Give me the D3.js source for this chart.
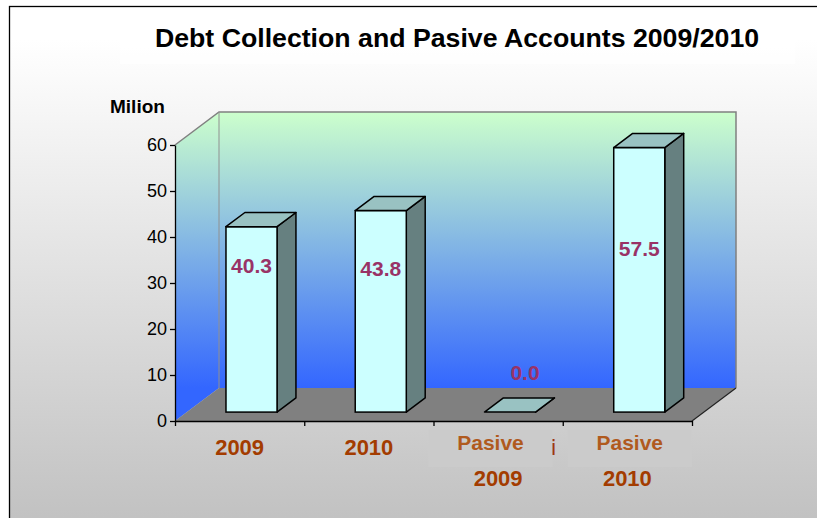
<!DOCTYPE html>
<html>
<head>
    <title>Debt Collection and Pasive Accounts 2009/2010</title>
    <script src="https://d3js.org/d3.v7.min.js"></script>
    <style>
        body { margin: 0; background: #fff; }
        svg { display: block; font-family: "Liberation Sans", Arial, sans-serif; }
        .axis path, .axis line { stroke: #000; stroke-width: 1.3; fill: none; }
        .axis text { font-size: 18px; fill: #000; }
    </style>
</head>
<body>
    <svg width="817" height="518"></svg>
    <script>
        // data
        const categories = ["2009", "2010", "Pasive 2009", "Pasive 2010"];
        const values = [40.3, 43.8, 0.0, 57.5];
        const yTicks = [0, 10, 20, 30, 40, 50, 60];
        const catLines = [["2009"], ["2010"], ["Pasive", "2009"], ["Pasive", "2010"]];

        // layout
        const plotLeft = 175, plotRight = 692, plotBottom = 421, plotTop = 145;
        const DX = 44, DY = -33;       // depth of the 3d box
        const f0 = 0.27, f1 = 0.70;    // bar position in depth
        const labelShift = [[0, 39], [0, 58], [15, -40], [0, 101]];
        const boxShift = [0, 0, -5, 5];

        const svg = d3.select("svg");
        const defs = svg.append("defs");

        const bg = defs.append("linearGradient").attr("id", "bg")
            .attr("gradientUnits", "userSpaceOnUse")
            .attr("x1", 0).attr("y1", 40).attr("x2", 0).attr("y2", 540);
        bg.append("stop").attr("offset", "0%").attr("stop-color", "#ffffff");
        bg.append("stop").attr("offset", "100%").attr("stop-color", "#bfbfbf");

        const wall = defs.append("linearGradient").attr("id", "wall")
            .attr("gradientUnits", "userSpaceOnUse")
            .attr("x1", 0).attr("y1", plotTop + DY).attr("x2", 0).attr("y2", plotBottom + DY);
        wall.append("stop").attr("offset", "0%").attr("stop-color", "#ccffcc");
        wall.append("stop").attr("offset", "100%").attr("stop-color", "#3366ff");

        // chart area
        svg.append("rect")
            .attr("x", 9.5).attr("y", 6.5).attr("width", 900).attr("height", 600)
            .attr("fill", "url(#bg)").attr("stroke", "#000").attr("stroke-width", 1.3);
        svg.append("rect")
            .attr("x", 120).attr("y", 8).attr("width", 675).attr("height", 56)
            .attr("fill", "#fff").attr("opacity", 0.5);

        // scales
        const x = d3.scaleBand().domain(categories).range([plotLeft, plotRight]);
        const xEdge = d3.scaleLinear().domain([0, categories.length]).range([plotLeft, plotRight]);
        const y = d3.scaleLinear().domain([0, 60]).range([plotBottom, plotTop]);

        const pts = p => p.map(d => d.join(",")).join(" ");

        // walls and floor
        const y0 = y(0), y60 = y(60);
        svg.append("polygon")
            .attr("points", pts([[plotLeft, y60], [plotLeft + DX, y60 + DY], [plotLeft + DX, y0 + DY], [plotLeft, y0]]))
            .attr("fill", "url(#wall)");
        svg.append("rect")
            .attr("x", plotLeft + DX).attr("y", y60 + DY)
            .attr("width", plotRight - plotLeft).attr("height", y0 - y60)
            .attr("fill", "url(#wall)");
        svg.append("polygon")
            .attr("points", pts([[plotLeft, y0], [plotLeft + DX, y0 + DY], [plotRight + DX, y0 + DY], [plotRight, y0]]))
            .attr("fill", "#808080");
        svg.append("polyline")
            .attr("points", pts([[plotLeft, y60], [plotLeft + DX, y60 + DY], [plotRight + DX, y60 + DY], [plotRight + DX, y0 + DY]]))
            .attr("fill", "none").attr("stroke", "#808080").attr("stroke-width", 1.5);
        svg.append("line")
            .attr("x1", plotLeft + DX).attr("y1", y60 + DY).attr("x2", plotLeft + DX).attr("y2", y0 + DY)
            .attr("stroke", "#909090").attr("stroke-width", 1);
        svg.append("line")
            .attr("x1", plotRight).attr("y1", y0).attr("x2", plotRight + DX).attr("y2", y0 + DY)
            .attr("stroke", "#222").attr("stroke-width", 1.2);

        // axes
        svg.append("g").attr("class", "axis")
            .attr("transform", `translate(${plotLeft},0)`)
            .call(d3.axisLeft(y).tickValues(yTicks).tickSize(5).tickSizeOuter(0));
        svg.append("g").attr("class", "axis")
            .attr("transform", `translate(0,${plotBottom})`)
            .call(d3.axisBottom(xEdge).ticks(categories.length).tickSize(5).tickSizeOuter(0).tickFormat(""));

        // bars
        const bw = x.bandwidth() * 0.395;
        const sdx = (f1 - f0) * DX, sdy = (f1 - f0) * DY;
        const bars = svg.selectAll(".bar").data(values).enter().append("g").attr("class", "bar");
        bars.each(function (v, i) {
            const g = d3.select(this);
            const xl = x(categories[i]) + x.bandwidth() / 2 - bw / 2 + f0 * DX;
            const xr = xl + bw;
            const yt = y(v) + f0 * DY;
            const yb = y(0) + f0 * DY;
            g.append("polygon")
                .attr("points", pts([[xr, yt], [xr + sdx, yt + sdy], [xr + sdx, yb + sdy], [xr, yb]]))
                .attr("fill", "#668080").attr("stroke", "#000").attr("stroke-width", 1.5)
                .attr("stroke-linejoin", "round");
            g.append("rect")
                .attr("x", xl).attr("y", yt).attr("width", bw).attr("height", yb - yt)
                .attr("fill", "#ccffff").attr("stroke", "#000").attr("stroke-width", 1.5);
            g.append("polygon")
                .attr("points", pts([[xl, yt], [xl + sdx, yt + sdy], [xr + sdx, yt + sdy], [xr, yt]]))
                .attr("fill", "#99c2c2").attr("stroke", "#000").attr("stroke-width", 1.5)
                .attr("stroke-linejoin", "round");
        });

        // value labels
        svg.selectAll(".val").data(values).enter().append("text")
            .attr("class", "val")
            .attr("x", (d, i) => x(categories[i]) + x.bandwidth() / 2 + f0 * DX + labelShift[i][0])
            .attr("y", (d, i) => y(d) + f0 * DY + labelShift[i][1] + 7.5)
            .attr("text-anchor", "middle")
            .style("font-size", "21px").style("font-weight", "bold").style("fill", "#993366")
            .text(d => d.toFixed(1));

        // category labels
        catLines.forEach((lines, i) => {
            const cx = x(categories[i]) + x.bandwidth() / 2;
            if (lines.length === 1) {
                svg.append("text")
                    .attr("x", cx).attr("y", 455).attr("text-anchor", "middle")
                    .style("font-size", "22px").style("font-weight", "bold").style("fill", "#a33c00")
                    .text(lines[0]);
                return;
            }
            // last letter of the hidden first line
            svg.append("text")
                .attr("x", cx + 58).attr("y", 455).attr("text-anchor", "end")
                .style("font-size", "22px").style("font-weight", "bold").style("fill", "#a33c00")
                .text("i");
            const bx = x(categories[i]) + boxShift[i];
            svg.append("rect")
                .attr("x", bx).attr("y", 430).attr("width", 124).attr("height", 37)
                .attr("fill", "#cbcbcb");
            svg.append("text")
                .attr("x", bx + 62).attr("y", 450).attr("text-anchor", "middle")
                .style("font-size", "21px").style("font-weight", "bold").style("fill", "#b05a1e")
                .text(lines[0]);
            svg.append("text")
                .attr("x", cx).attr("y", 486).attr("text-anchor", "middle")
                .style("font-size", "22px").style("font-weight", "bold").style("fill", "#a33c00")
                .text(lines[1]);
        });

        // titles
        svg.append("text")
            .attr("x", 457).attr("y", 47).attr("text-anchor", "middle")
            .style("font-size", "26.7px").style("font-weight", "bold")
            .text("Debt Collection and Pasive Accounts 2009/2010");
        svg.append("text")
            .attr("x", 110).attr("y", 113)
            .style("font-size", "19px").style("font-weight", "bold")
            .text("Milion");
    </script>
</body>
</html>
